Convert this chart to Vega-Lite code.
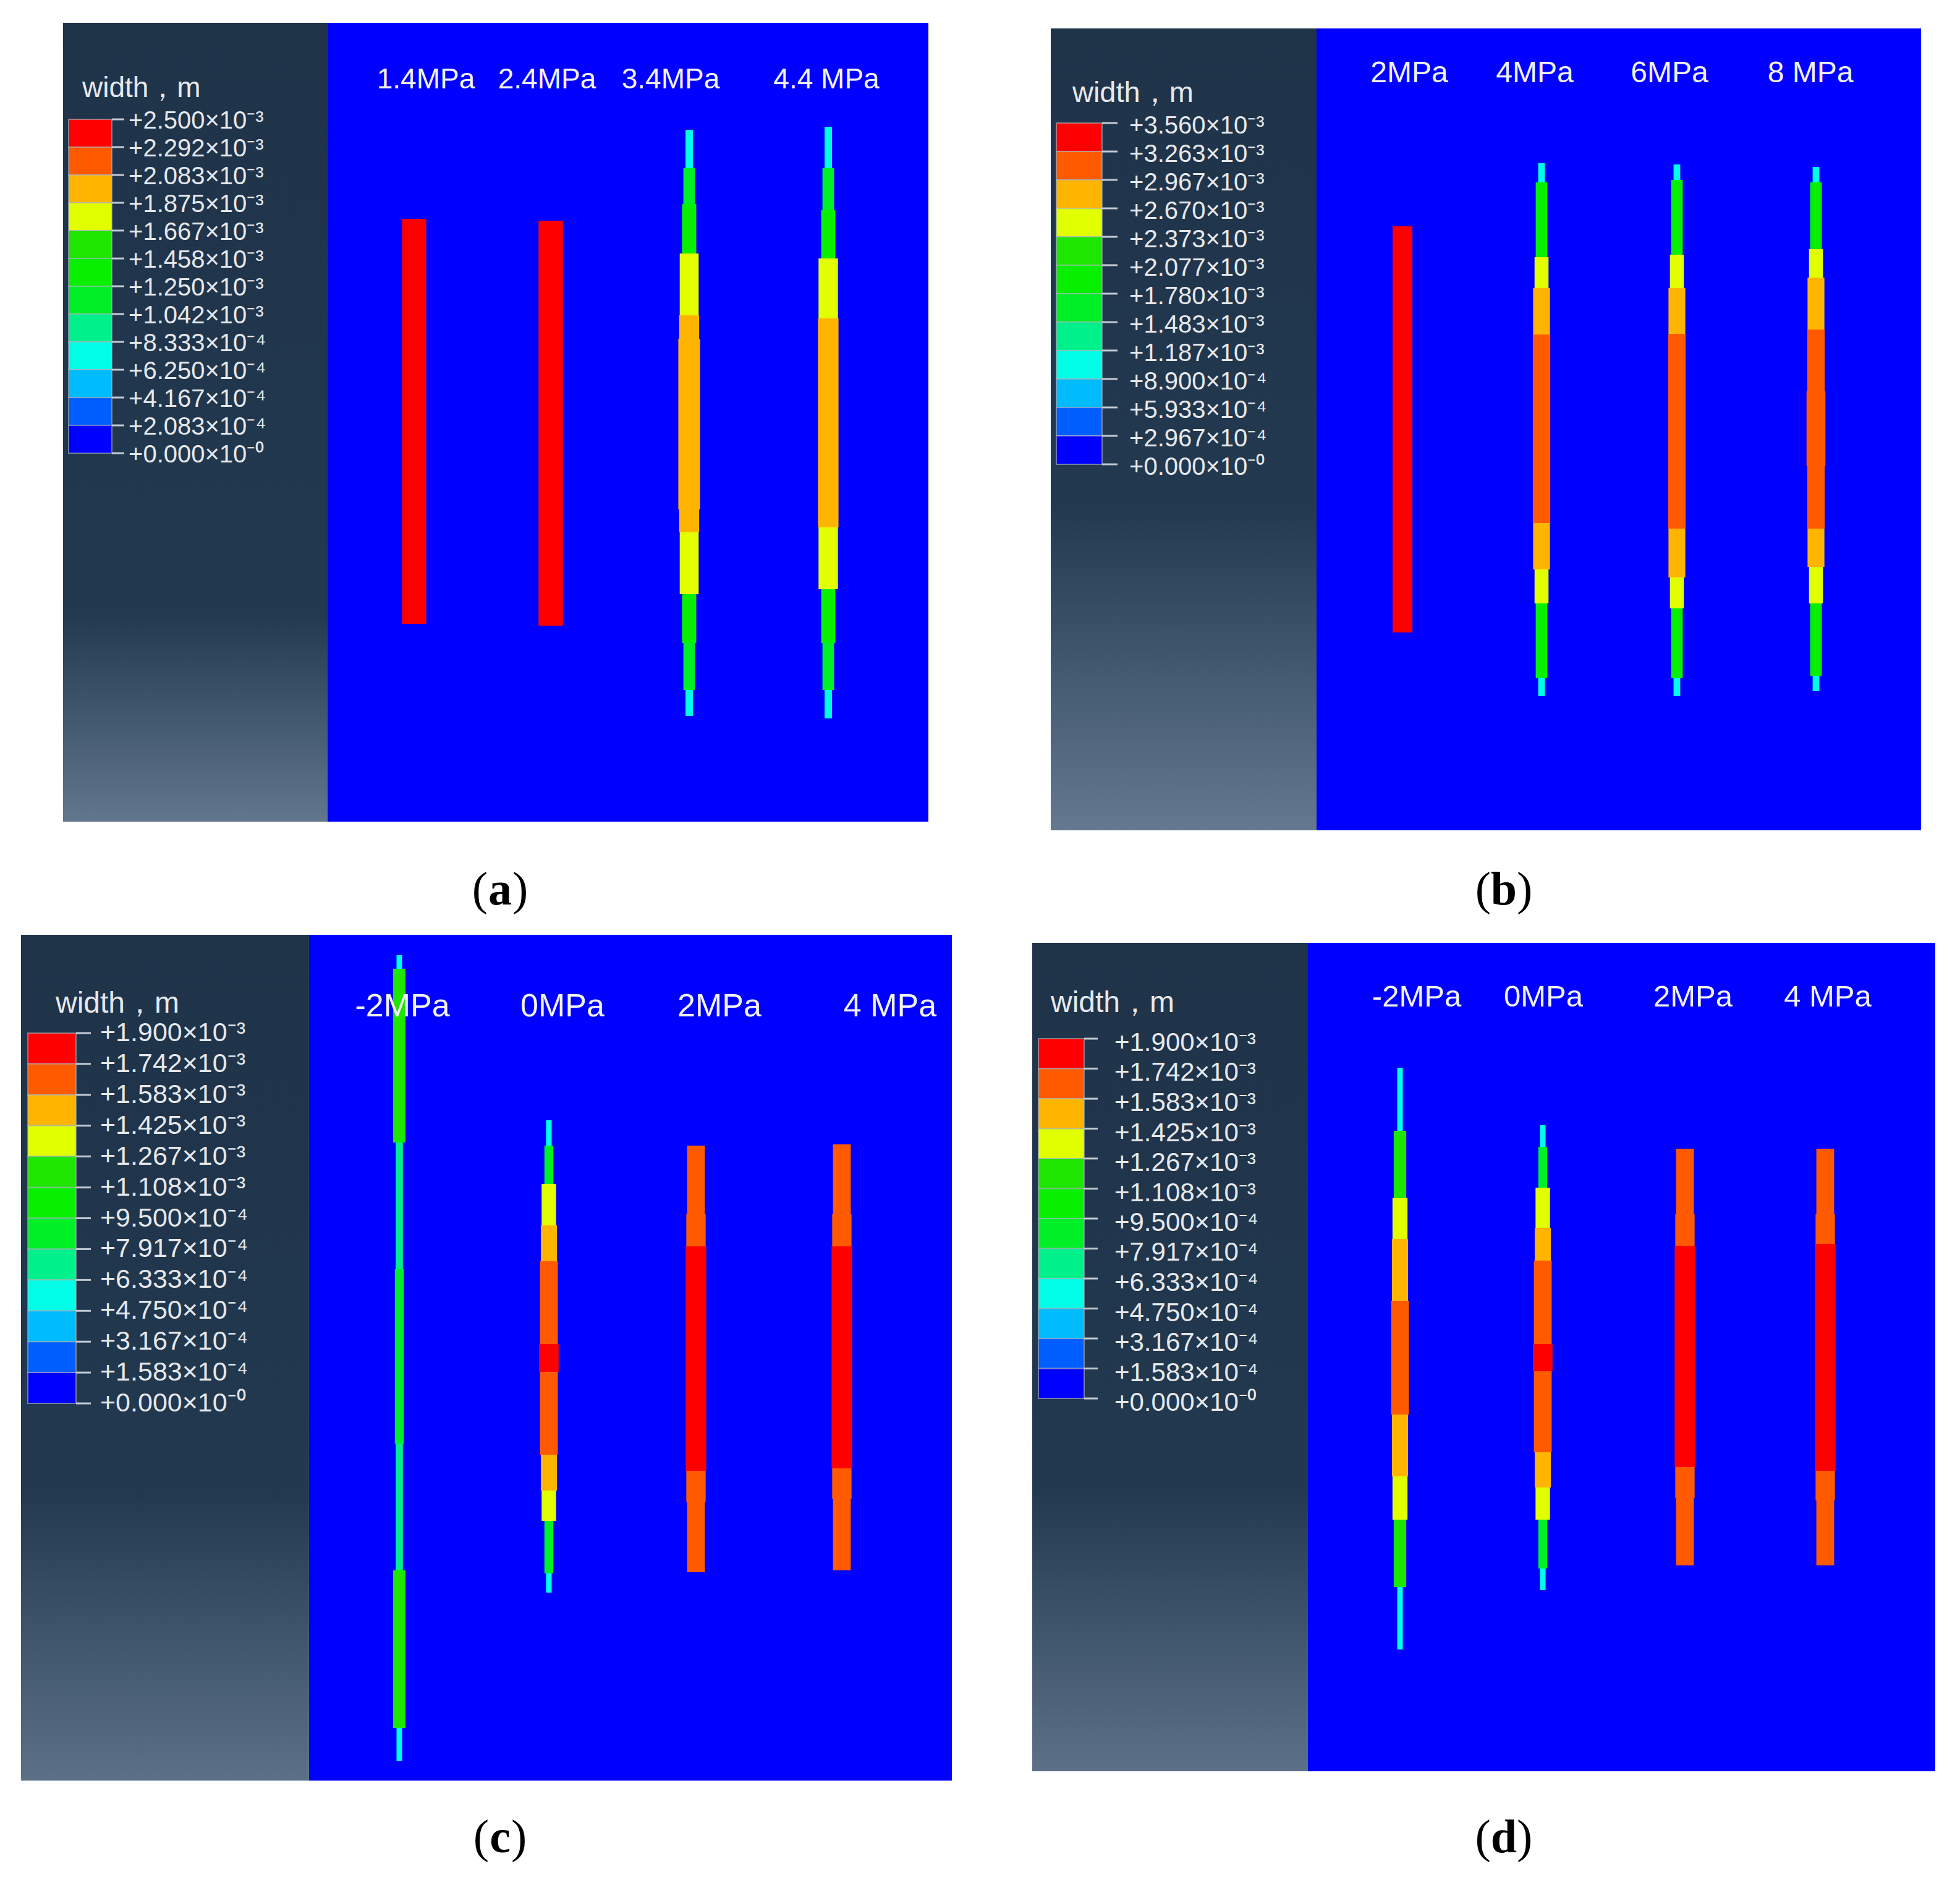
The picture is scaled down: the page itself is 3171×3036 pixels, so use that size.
{
  "$schema": "https://vega.github.io/schema/vega-lite/v6.json",
  "width": 3171,
  "height": 3036,
  "padding": 0,
  "autosize": "none",
  "background": "white",
  "config": {"view": {"stroke": null}},
  "datasets": {
    "bounds": [
      {"panel": "a", "v": 0.0025, "label": "+2.500×10⁻³"},
      {"panel": "a", "v": 0.002292, "label": "+2.292×10⁻³"},
      {"panel": "a", "v": 0.002083, "label": "+2.083×10⁻³"},
      {"panel": "a", "v": 0.001875, "label": "+1.875×10⁻³"},
      {"panel": "a", "v": 0.001667, "label": "+1.667×10⁻³"},
      {"panel": "a", "v": 0.001458, "label": "+1.458×10⁻³"},
      {"panel": "a", "v": 0.00125, "label": "+1.250×10⁻³"},
      {"panel": "a", "v": 0.001042, "label": "+1.042×10⁻³"},
      {"panel": "a", "v": 0.0008333, "label": "+8.333×10⁻⁴"},
      {"panel": "a", "v": 0.000625, "label": "+6.250×10⁻⁴"},
      {"panel": "a", "v": 0.0004167, "label": "+4.167×10⁻⁴"},
      {"panel": "a", "v": 0.0002083, "label": "+2.083×10⁻⁴"},
      {"panel": "a", "v": 0, "label": "+0.000×10⁻⁰"},
      {"panel": "b", "v": 0.00356, "label": "+3.560×10⁻³"},
      {"panel": "b", "v": 0.003263, "label": "+3.263×10⁻³"},
      {"panel": "b", "v": 0.002967, "label": "+2.967×10⁻³"},
      {"panel": "b", "v": 0.00267, "label": "+2.670×10⁻³"},
      {"panel": "b", "v": 0.002373, "label": "+2.373×10⁻³"},
      {"panel": "b", "v": 0.002077, "label": "+2.077×10⁻³"},
      {"panel": "b", "v": 0.00178, "label": "+1.780×10⁻³"},
      {"panel": "b", "v": 0.001483, "label": "+1.483×10⁻³"},
      {"panel": "b", "v": 0.001187, "label": "+1.187×10⁻³"},
      {"panel": "b", "v": 0.00089, "label": "+8.900×10⁻⁴"},
      {"panel": "b", "v": 0.0005933, "label": "+5.933×10⁻⁴"},
      {"panel": "b", "v": 0.0002967, "label": "+2.967×10⁻⁴"},
      {"panel": "b", "v": 0, "label": "+0.000×10⁻⁰"},
      {"panel": "c", "v": 0.0019, "label": "+1.900×10⁻³"},
      {"panel": "c", "v": 0.001742, "label": "+1.742×10⁻³"},
      {"panel": "c", "v": 0.001583, "label": "+1.583×10⁻³"},
      {"panel": "c", "v": 0.001425, "label": "+1.425×10⁻³"},
      {"panel": "c", "v": 0.001267, "label": "+1.267×10⁻³"},
      {"panel": "c", "v": 0.001108, "label": "+1.108×10⁻³"},
      {"panel": "c", "v": 0.00095, "label": "+9.500×10⁻⁴"},
      {"panel": "c", "v": 0.0007917, "label": "+7.917×10⁻⁴"},
      {"panel": "c", "v": 0.0006333, "label": "+6.333×10⁻⁴"},
      {"panel": "c", "v": 0.000475, "label": "+4.750×10⁻⁴"},
      {"panel": "c", "v": 0.0003167, "label": "+3.167×10⁻⁴"},
      {"panel": "c", "v": 0.0001583, "label": "+1.583×10⁻⁴"},
      {"panel": "c", "v": 0, "label": "+0.000×10⁻⁰"},
      {"panel": "d", "v": 0.0019, "label": "+1.900×10⁻³"},
      {"panel": "d", "v": 0.001742, "label": "+1.742×10⁻³"},
      {"panel": "d", "v": 0.001583, "label": "+1.583×10⁻³"},
      {"panel": "d", "v": 0.001425, "label": "+1.425×10⁻³"},
      {"panel": "d", "v": 0.001267, "label": "+1.267×10⁻³"},
      {"panel": "d", "v": 0.001108, "label": "+1.108×10⁻³"},
      {"panel": "d", "v": 0.00095, "label": "+9.500×10⁻⁴"},
      {"panel": "d", "v": 0.0007917, "label": "+7.917×10⁻⁴"},
      {"panel": "d", "v": 0.0006333, "label": "+6.333×10⁻⁴"},
      {"panel": "d", "v": 0.000475, "label": "+4.750×10⁻⁴"},
      {"panel": "d", "v": 0.0003167, "label": "+3.167×10⁻⁴"},
      {"panel": "d", "v": 0.0001583, "label": "+1.583×10⁻⁴"},
      {"panel": "d", "v": 0, "label": "+0.000×10⁻⁰"}
    ],
    "bands": [
      {"panel": "a", "lo": 0.002292, "hi": 0.0025},
      {"panel": "a", "lo": 0.002083, "hi": 0.002292},
      {"panel": "a", "lo": 0.001875, "hi": 0.002083},
      {"panel": "a", "lo": 0.001667, "hi": 0.001875},
      {"panel": "a", "lo": 0.001458, "hi": 0.001667},
      {"panel": "a", "lo": 0.00125, "hi": 0.001458},
      {"panel": "a", "lo": 0.001042, "hi": 0.00125},
      {"panel": "a", "lo": 0.0008333, "hi": 0.001042},
      {"panel": "a", "lo": 0.000625, "hi": 0.0008333},
      {"panel": "a", "lo": 0.0004167, "hi": 0.000625},
      {"panel": "a", "lo": 0.0002083, "hi": 0.0004167},
      {"panel": "a", "lo": 0, "hi": 0.0002083},
      {"panel": "b", "lo": 0.003263, "hi": 0.00356},
      {"panel": "b", "lo": 0.002967, "hi": 0.003263},
      {"panel": "b", "lo": 0.00267, "hi": 0.002967},
      {"panel": "b", "lo": 0.002373, "hi": 0.00267},
      {"panel": "b", "lo": 0.002077, "hi": 0.002373},
      {"panel": "b", "lo": 0.00178, "hi": 0.002077},
      {"panel": "b", "lo": 0.001483, "hi": 0.00178},
      {"panel": "b", "lo": 0.001187, "hi": 0.001483},
      {"panel": "b", "lo": 0.00089, "hi": 0.001187},
      {"panel": "b", "lo": 0.0005933, "hi": 0.00089},
      {"panel": "b", "lo": 0.0002967, "hi": 0.0005933},
      {"panel": "b", "lo": 0, "hi": 0.0002967},
      {"panel": "c", "lo": 0.001742, "hi": 0.0019},
      {"panel": "c", "lo": 0.001583, "hi": 0.001742},
      {"panel": "c", "lo": 0.001425, "hi": 0.001583},
      {"panel": "c", "lo": 0.001267, "hi": 0.001425},
      {"panel": "c", "lo": 0.001108, "hi": 0.001267},
      {"panel": "c", "lo": 0.00095, "hi": 0.001108},
      {"panel": "c", "lo": 0.0007917, "hi": 0.00095},
      {"panel": "c", "lo": 0.0006333, "hi": 0.0007917},
      {"panel": "c", "lo": 0.000475, "hi": 0.0006333},
      {"panel": "c", "lo": 0.0003167, "hi": 0.000475},
      {"panel": "c", "lo": 0.0001583, "hi": 0.0003167},
      {"panel": "c", "lo": 0, "hi": 0.0001583},
      {"panel": "d", "lo": 0.001742, "hi": 0.0019},
      {"panel": "d", "lo": 0.001583, "hi": 0.001742},
      {"panel": "d", "lo": 0.001425, "hi": 0.001583},
      {"panel": "d", "lo": 0.001267, "hi": 0.001425},
      {"panel": "d", "lo": 0.001108, "hi": 0.001267},
      {"panel": "d", "lo": 0.00095, "hi": 0.001108},
      {"panel": "d", "lo": 0.0007917, "hi": 0.00095},
      {"panel": "d", "lo": 0.0006333, "hi": 0.0007917},
      {"panel": "d", "lo": 0.000475, "hi": 0.0006333},
      {"panel": "d", "lo": 0.0003167, "hi": 0.000475},
      {"panel": "d", "lo": 0.0001583, "hi": 0.0003167},
      {"panel": "d", "lo": 0, "hi": 0.0001583}
    ],
    "labels": [
      {"panel": "a", "f": "1.4MPa", "x": 15.9},
      {"panel": "a", "f": "2.4MPa", "x": 35.5},
      {"panel": "a", "f": "3.4MPa", "x": 55.5},
      {"panel": "a", "f": "4.4 MPa", "x": 80.7},
      {"panel": "b", "f": "2MPa", "x": 15.0},
      {"panel": "b", "f": "4MPa", "x": 35.3},
      {"panel": "b", "f": "6MPa", "x": 57.1},
      {"panel": "b", "f": "8 MPa", "x": 79.9},
      {"panel": "c", "f": "-2MPa", "x": 15.1},
      {"panel": "c", "f": "0MPa", "x": 41.0},
      {"panel": "c", "f": "2MPa", "x": 66.4},
      {"panel": "c", "f": "4 MPa", "x": 94.0},
      {"panel": "d", "f": "-2MPa", "x": 17.6},
      {"panel": "d", "f": "0MPa", "x": 38.1},
      {"panel": "d", "f": "2MPa", "x": 62.3},
      {"panel": "d", "f": "4 MPa", "x": 84.1}
    ],
    "segments": [
      {"panel": "a", "f": "1.4MPa", "x": 14.0, "y0": 97.5, "y1": 32.0, "w": 0.0023},
      {"panel": "a", "f": "2.4MPa", "x": 36.1, "y0": 97.2, "y1": 31.7, "w": 0.00232},
      {"panel": "a", "f": "3.4MPa", "x": 58.5, "y0": 111.9, "y1": 105.7, "w": 0.0007},
      {"panel": "a", "f": "3.4MPa", "x": 58.5, "y0": 105.7, "y1": 99.9, "w": 0.0011},
      {"panel": "a", "f": "3.4MPa", "x": 58.5, "y0": 99.9, "y1": 91.9, "w": 0.00135},
      {"panel": "a", "f": "3.4MPa", "x": 58.5, "y0": 91.9, "y1": 81.9, "w": 0.0018},
      {"panel": "a", "f": "3.4MPa", "x": 58.5, "y0": 81.9, "y1": 78.1, "w": 0.0019},
      {"panel": "a", "f": "3.4MPa", "x": 58.5, "y0": 78.1, "y1": 50.5, "w": 0.00207},
      {"panel": "a", "f": "3.4MPa", "x": 58.5, "y0": 50.5, "y1": 46.8, "w": 0.0019},
      {"panel": "a", "f": "3.4MPa", "x": 58.5, "y0": 46.8, "y1": 36.8, "w": 0.0018},
      {"panel": "a", "f": "3.4MPa", "x": 58.5, "y0": 36.8, "y1": 28.9, "w": 0.00135},
      {"panel": "a", "f": "3.4MPa", "x": 58.5, "y0": 28.9, "y1": 21.3, "w": 0.0011},
      {"panel": "a", "f": "3.4MPa", "x": 58.5, "y0": 21.3, "y1": 17.1, "w": 0.0007},
      {"panel": "a", "f": "4.4MPa", "x": 81.0, "y0": 112.4, "y1": 105.7, "w": 0.0007},
      {"panel": "a", "f": "4.4MPa", "x": 81.0, "y0": 105.7, "y1": 98.9, "w": 0.0011},
      {"panel": "a", "f": "4.4MPa", "x": 81.0, "y0": 98.9, "y1": 91.1, "w": 0.00135},
      {"panel": "a", "f": "4.4MPa", "x": 81.0, "y0": 91.1, "y1": 81.4, "w": 0.00185},
      {"panel": "a", "f": "4.4MPa", "x": 81.0, "y0": 81.4, "y1": 47.6, "w": 0.00195},
      {"panel": "a", "f": "4.4MPa", "x": 81.0, "y0": 47.6, "y1": 37.6, "w": 0.00185},
      {"panel": "a", "f": "4.4MPa", "x": 81.0, "y0": 37.6, "y1": 28.9, "w": 0.00135},
      {"panel": "a", "f": "4.4MPa", "x": 81.0, "y0": 28.9, "y1": 21.3, "w": 0.0011},
      {"panel": "a", "f": "4.4MPa", "x": 81.0, "y0": 21.3, "y1": 16.7, "w": 0.0007},

      {"panel": "b", "f": "2MPa", "x": 13.9, "y0": 97.7, "y1": 32.0, "w": 0.0034},
      {"panel": "b", "f": "4MPa", "x": 36.4, "y0": 107.9, "y1": 104.8, "w": 0.00115},
      {"panel": "b", "f": "4MPa", "x": 36.4, "y0": 104.8, "y1": 92.7, "w": 0.002},
      {"panel": "b", "f": "4MPa", "x": 36.4, "y0": 92.7, "y1": 87.7, "w": 0.0024},
      {"panel": "b", "f": "4MPa", "x": 36.4, "y0": 87.7, "y1": 80.2, "w": 0.0029},
      {"panel": "b", "f": "4MPa", "x": 36.4, "y0": 80.2, "y1": 49.7, "w": 0.003},
      {"panel": "b", "f": "4MPa", "x": 36.4, "y0": 49.7, "y1": 42.2, "w": 0.0029},
      {"panel": "b", "f": "4MPa", "x": 36.4, "y0": 42.2, "y1": 36.7, "w": 0.0024},
      {"panel": "b", "f": "4MPa", "x": 36.4, "y0": 36.7, "y1": 24.6, "w": 0.002},
      {"panel": "b", "f": "4MPa", "x": 36.4, "y0": 24.6, "y1": 21.7, "w": 0.00115},
      {"panel": "b", "f": "6MPa", "x": 58.3, "y0": 107.7, "y1": 105.2, "w": 0.00115},
      {"panel": "b", "f": "6MPa", "x": 58.3, "y0": 105.2, "y1": 93.1, "w": 0.002},
      {"panel": "b", "f": "6MPa", "x": 58.3, "y0": 93.1, "y1": 87.7, "w": 0.0024},
      {"panel": "b", "f": "6MPa", "x": 58.3, "y0": 87.7, "y1": 80.3, "w": 0.0029},
      {"panel": "b", "f": "6MPa", "x": 58.3, "y0": 80.3, "y1": 48.8, "w": 0.003},
      {"panel": "b", "f": "6MPa", "x": 58.3, "y0": 48.8, "y1": 40.9, "w": 0.0029},
      {"panel": "b", "f": "6MPa", "x": 58.3, "y0": 40.9, "y1": 35.9, "w": 0.0024},
      {"panel": "b", "f": "6MPa", "x": 58.3, "y0": 35.9, "y1": 24.6, "w": 0.002},
      {"panel": "b", "f": "6MPa", "x": 58.3, "y0": 24.6, "y1": 21.7, "w": 0.00115},
      {"panel": "b", "f": "8MPa", "x": 80.8, "y0": 107.3, "y1": 104.8, "w": 0.00115},
      {"panel": "b", "f": "8MPa", "x": 80.8, "y0": 104.8, "y1": 94.0, "w": 0.002},
      {"panel": "b", "f": "8MPa", "x": 80.8, "y0": 94.0, "y1": 89.4, "w": 0.0024},
      {"panel": "b", "f": "8MPa", "x": 80.8, "y0": 89.4, "y1": 81.0, "w": 0.0029},
      {"panel": "b", "f": "8MPa", "x": 80.8, "y0": 81.0, "y1": 71.0, "w": 0.003},
      {"panel": "b", "f": "8MPa", "x": 80.8, "y0": 71.0, "y1": 58.9, "w": 0.00325},
      {"panel": "b", "f": "8MPa", "x": 80.8, "y0": 58.9, "y1": 48.8, "w": 0.003},
      {"panel": "b", "f": "8MPa", "x": 80.8, "y0": 48.8, "y1": 42.6, "w": 0.0029},
      {"panel": "b", "f": "8MPa", "x": 80.8, "y0": 42.6, "y1": 36.7, "w": 0.0024},
      {"panel": "b", "f": "8MPa", "x": 80.8, "y0": 36.7, "y1": 25.0, "w": 0.002},
      {"panel": "b", "f": "8MPa", "x": 80.8, "y0": 25.0, "y1": 22.5, "w": 0.00115},

      {"panel": "c", "f": "-2MPa", "x": 14.6, "y0": 133.5, "y1": 131.3, "w": 0.0005},
      {"panel": "c", "f": "-2MPa", "x": 14.6, "y0": 131.3, "y1": 103.2, "w": 0.00112},
      {"panel": "c", "f": "-2MPa", "x": 14.6, "y0": 103.2, "y1": 82.7, "w": 0.00064},
      {"panel": "c", "f": "-2MPa", "x": 14.6, "y0": 82.7, "y1": 54.5, "w": 0.0008},
      {"panel": "c", "f": "-2MPa", "x": 14.6, "y0": 54.5, "y1": 34.0, "w": 0.00064},
      {"panel": "c", "f": "-2MPa", "x": 14.6, "y0": 34.0, "y1": 8.5, "w": 0.00112},
      {"panel": "c", "f": "-2MPa", "x": 14.6, "y0": 8.5, "y1": 3.2, "w": 0.0005},
      {"panel": "c", "f": "0MPa", "x": 38.8, "y0": 106.8, "y1": 102.7, "w": 0.0005},
      {"panel": "c", "f": "0MPa", "x": 38.8, "y0": 102.7, "y1": 96.5, "w": 0.0008},
      {"panel": "c", "f": "0MPa", "x": 38.8, "y0": 96.5, "y1": 89.8, "w": 0.0013},
      {"panel": "c", "f": "0MPa", "x": 38.8, "y0": 89.8, "y1": 84.0, "w": 0.00145},
      {"panel": "c", "f": "0MPa", "x": 38.8, "y0": 84.0, "y1": 70.6, "w": 0.0016},
      {"panel": "c", "f": "0MPa", "x": 38.8, "y0": 70.6, "y1": 66.1, "w": 0.00175},
      {"panel": "c", "f": "0MPa", "x": 38.8, "y0": 66.1, "y1": 52.7, "w": 0.0016},
      {"panel": "c", "f": "0MPa", "x": 38.8, "y0": 52.7, "y1": 46.9, "w": 0.00145},
      {"panel": "c", "f": "0MPa", "x": 38.8, "y0": 46.9, "y1": 42.0, "w": 0.0013},
      {"panel": "c", "f": "0MPa", "x": 38.8, "y0": 42.0, "y1": 33.5, "w": 0.0008},
      {"panel": "c", "f": "0MPa", "x": 38.8, "y0": 33.5, "y1": 30.4, "w": 0.0005},
      {"panel": "c", "f": "2MPa", "x": 62.6, "y0": 102.7, "y1": 91.6, "w": 0.0016},
      {"panel": "c", "f": "2MPa", "x": 62.6, "y0": 91.6, "y1": 86.4, "w": 0.00174},
      {"panel": "c", "f": "2MPa", "x": 62.6, "y0": 86.4, "y1": 50.1, "w": 0.00185},
      {"panel": "c", "f": "2MPa", "x": 62.6, "y0": 50.1, "y1": 45.1, "w": 0.00174},
      {"panel": "c", "f": "2MPa", "x": 62.6, "y0": 45.1, "y1": 33.7, "w": 0.0016},
      {"panel": "c", "f": "4MPa", "x": 86.2, "y0": 102.9, "y1": 91.6, "w": 0.0016},
      {"panel": "c", "f": "4MPa", "x": 86.2, "y0": 91.6, "y1": 86.4, "w": 0.00174},
      {"panel": "c", "f": "4MPa", "x": 86.2, "y0": 86.4, "y1": 50.5, "w": 0.00185},
      {"panel": "c", "f": "4MPa", "x": 86.2, "y0": 50.5, "y1": 45.6, "w": 0.00174},
      {"panel": "c", "f": "4MPa", "x": 86.2, "y0": 45.6, "y1": 34.0, "w": 0.0016},

      {"panel": "d", "f": "-2MPa", "x": 14.9, "y0": 113.8, "y1": 103.6, "w": 0.0005},
      {"panel": "d", "f": "-2MPa", "x": 14.9, "y0": 103.6, "y1": 92.7, "w": 0.00112},
      {"panel": "d", "f": "-2MPa", "x": 14.9, "y0": 92.7, "y1": 86.1, "w": 0.00135},
      {"panel": "d", "f": "-2MPa", "x": 14.9, "y0": 86.1, "y1": 76.1, "w": 0.00145},
      {"panel": "d", "f": "-2MPa", "x": 14.9, "y0": 76.1, "y1": 57.7, "w": 0.0016},
      {"panel": "d", "f": "-2MPa", "x": 14.9, "y0": 57.7, "y1": 47.7, "w": 0.00145},
      {"panel": "d", "f": "-2MPa", "x": 14.9, "y0": 47.7, "y1": 40.7, "w": 0.00135},
      {"panel": "d", "f": "-2MPa", "x": 14.9, "y0": 40.7, "y1": 29.8, "w": 0.00112},
      {"panel": "d", "f": "-2MPa", "x": 14.9, "y0": 29.8, "y1": 19.7, "w": 0.0005},
      {"panel": "d", "f": "0MPa", "x": 38.0, "y0": 104.5, "y1": 101.0, "w": 0.0005},
      {"panel": "d", "f": "0MPa", "x": 38.0, "y0": 101.0, "y1": 94.4, "w": 0.0008},
      {"panel": "d", "f": "0MPa", "x": 38.0, "y0": 94.4, "y1": 87.9, "w": 0.0013},
      {"panel": "d", "f": "0MPa", "x": 38.0, "y0": 87.9, "y1": 82.6, "w": 0.00145},
      {"panel": "d", "f": "0MPa", "x": 38.0, "y0": 82.6, "y1": 69.1, "w": 0.0016},
      {"panel": "d", "f": "0MPa", "x": 38.0, "y0": 69.1, "y1": 64.7, "w": 0.00175},
      {"panel": "d", "f": "0MPa", "x": 38.0, "y0": 64.7, "y1": 51.6, "w": 0.0016},
      {"panel": "d", "f": "0MPa", "x": 38.0, "y0": 51.6, "y1": 45.9, "w": 0.00145},
      {"panel": "d", "f": "0MPa", "x": 38.0, "y0": 45.9, "y1": 40.7, "w": 0.0013},
      {"panel": "d", "f": "0MPa", "x": 38.0, "y0": 40.7, "y1": 32.8, "w": 0.0008},
      {"panel": "d", "f": "0MPa", "x": 38.0, "y0": 32.8, "y1": 29.3, "w": 0.0005},
      {"panel": "d", "f": "2MPa", "x": 61.0, "y0": 100.7, "y1": 90.1, "w": 0.0016},
      {"panel": "d", "f": "2MPa", "x": 61.0, "y0": 90.1, "y1": 85.0, "w": 0.00174},
      {"panel": "d", "f": "2MPa", "x": 61.0, "y0": 85.0, "y1": 49.2, "w": 0.00185},
      {"panel": "d", "f": "2MPa", "x": 61.0, "y0": 49.2, "y1": 44.2, "w": 0.00174},
      {"panel": "d", "f": "2MPa", "x": 61.0, "y0": 44.2, "y1": 33.3, "w": 0.0016},
      {"panel": "d", "f": "4MPa", "x": 83.7, "y0": 100.7, "y1": 90.1, "w": 0.0016},
      {"panel": "d", "f": "4MPa", "x": 83.7, "y0": 90.1, "y1": 85.3, "w": 0.00174},
      {"panel": "d", "f": "4MPa", "x": 83.7, "y0": 85.3, "y1": 48.6, "w": 0.00185},
      {"panel": "d", "f": "4MPa", "x": 83.7, "y0": 48.6, "y1": 43.8, "w": 0.00174},
      {"panel": "d", "f": "4MPa", "x": 83.7, "y0": 43.8, "y1": 33.3, "w": 0.0016}
    ]
  },
  "layer": [
    {
      "layer": [
        {
          "data": {"values": [{"panel": "a"}]},
          "layer": [
            {"mark": {"type": "rect", "fill": {"gradient": "linear", "x1": 0, "y1": 0, "x2": 0, "y2": 1, "stops": [{"offset": 0, "color": "#1f3349"}, {"offset": 0.74, "color": "#22394f"}, {"offset": 1, "color": "#62778e"}]}},
             "encoding": {"x": {"datum": 0, "type": "quantitative", "scale": {"domain": [0, 1], "range": [102, 1502], "nice": false, "zero": false}, "axis": null}, "x2": {"datum": 0.3057},
                          "y": {"datum": 0, "type": "quantitative", "scale": {"domain": [0, 1], "range": [1329, 37], "nice": false, "zero": false}, "axis": null}, "y2": {"datum": 1}}},
            {"mark": {"type": "text", "text": "(", "font": "Liberation Serif", "fontSize": 76, "align": "right", "baseline": "middle", "dx": -20, "color": "black"},
             "encoding": {"x": {"datum": 0.505, "type": "quantitative", "scale": {"domain": [0, 1], "range": [102, 1502], "nice": false, "zero": false}, "axis": null},
                          "y": {"datum": -0.0859, "type": "quantitative", "scale": {"domain": [0, 1], "range": [1329, 37], "nice": false, "zero": false}, "axis": null}}},
            {"mark": {"type": "text", "font": "Liberation Serif", "fontSize": 76, "fontWeight": "bold", "align": "center", "baseline": "middle", "color": "black"},
             "encoding": {"text": {"field": "panel"}, "x": {"datum": 0.505, "type": "quantitative", "scale": {"domain": [0, 1], "range": [102, 1502], "nice": false, "zero": false}, "axis": null},
                          "y": {"datum": -0.0859, "type": "quantitative", "scale": {"domain": [0, 1], "range": [1329, 37], "nice": false, "zero": false}, "axis": null}}},
            {"mark": {"type": "text", "text": ")", "font": "Liberation Serif", "fontSize": 76, "align": "left", "baseline": "middle", "dx": 20, "color": "black"},
             "encoding": {"x": {"datum": 0.505, "type": "quantitative", "scale": {"domain": [0, 1], "range": [102, 1502], "nice": false, "zero": false}, "axis": null},
                          "y": {"datum": -0.0859, "type": "quantitative", "scale": {"domain": [0, 1], "range": [1329, 37], "nice": false, "zero": false}, "axis": null}}}
          ]
        },
        {
          "layer": [
            {"data": {"name": "bands"}, "transform": [{"filter": "datum.panel === 'a'"}],
             "mark": {"type": "rect", "stroke": "#aab4be", "strokeWidth": 2, "strokeOpacity": 0.6},
             "encoding": {"x": {"datum": 0, "type": "quantitative", "scale": {"domain": [0, 1], "range": [111, 181], "nice": false, "zero": false}, "axis": null}, "x2": {"datum": 1},
                          "y": {"field": "lo", "type": "quantitative", "scale": {"domain": [0, 0.0025], "range": [733, 193], "nice": false, "zero": false}, "axis": null}, "y2": {"field": "hi"},
                          "color": {"field": "lo", "type": "quantitative", "legend": null, "scale": {"type": "threshold", "domain": [0.0002083, 0.0004167, 0.000625, 0.0008333, 0.001042, 0.00125, 0.001458, 0.001667, 0.001875, 0.002083, 0.002292], "range": ["#0000ff", "#005eff", "#00bcff", "#00ffe6", "#00f08c", "#00f028", "#08f000", "#1ee600", "#e2ff00", "#ffb400", "#ff5a00", "#ff0000"]}}}},
            {"data": {"name": "bounds"}, "transform": [{"filter": "datum.panel === 'a'"}],
             "mark": {"type": "rule", "color": "#c3cad2", "strokeWidth": 3},
             "encoding": {"x": {"datum": 1, "type": "quantitative", "scale": {"domain": [0, 1], "range": [111, 181], "nice": false, "zero": false}, "axis": null}, "x2": {"datum": 1.286},
                          "y": {"field": "v", "type": "quantitative", "scale": {"domain": [0, 0.0025], "range": [733, 193], "nice": false, "zero": false}, "axis": null}}},
            {"data": {"name": "bounds"}, "transform": [{"filter": "datum.panel === 'a'"}],
             "mark": {"type": "text", "align": "left", "baseline": "middle", "dy": 3, "font": "Liberation Sans", "fontSize": 40, "color": "#e6e8ec"},
             "encoding": {"x": {"datum": 1.386, "type": "quantitative", "scale": {"domain": [0, 1], "range": [111, 181], "nice": false, "zero": false}, "axis": null},
                          "y": {"field": "v", "type": "quantitative", "scale": {"domain": [0, 0.0025], "range": [733, 193], "nice": false, "zero": false}, "axis": null},
                          "text": {"field": "label"}}},
            {"data": {"values": [{"title": "width，m"}]},
             "mark": {"type": "text", "align": "left", "baseline": "middle", "font": "Liberation Sans", "fontSize": 46, "color": "#e6e8ec"},
             "encoding": {"x": {"datum": 0.314, "type": "quantitative", "scale": {"domain": [0, 1], "range": [111, 181], "nice": false, "zero": false}, "axis": null},
                          "y": {"datum": 0.0027315, "type": "quantitative", "scale": {"domain": [0, 0.0025], "range": [733, 193], "nice": false, "zero": false}, "axis": null},
                          "text": {"field": "title"}}}
          ]
        },
        {
          "layer": [
            {"data": {"values": [{}]}, "mark": {"type": "rect", "fill": "#0000fe"},
             "encoding": {"x": {"datum": 0, "type": "quantitative", "scale": {"domain": [0, 97.2], "range": [530, 1502], "nice": false, "zero": false}, "axis": null}, "x2": {"datum": 97.2},
                          "y": {"datum": 0, "type": "quantitative", "scale": {"domain": [0, 129.2], "range": [1329, 37], "nice": false, "zero": false}, "axis": null}, "y2": {"datum": 129.2}}},
            {"data": {"name": "segments"}, "transform": [{"filter": "datum.panel === 'a'"}],
             "mark": {"type": "rule", "strokeCap": "butt"},
             "encoding": {"x": {"field": "x", "type": "quantitative", "scale": {"domain": [0, 97.2], "range": [530, 1502], "nice": false, "zero": false}, "axis": null},
                          "y": {"field": "y0", "type": "quantitative", "scale": {"domain": [0, 129.2], "range": [1329, 37], "nice": false, "zero": false}, "axis": null}, "y2": {"field": "y1"},
                          "color": {"field": "w", "type": "quantitative", "legend": null, "scale": {"type": "threshold", "domain": [0.0002083, 0.0004167, 0.000625, 0.0008333, 0.001042, 0.00125, 0.001458, 0.001667, 0.001875, 0.002083, 0.002292], "range": ["#0000ff", "#005eff", "#00bcff", "#00ffe6", "#00f08c", "#00f028", "#08f000", "#1ee600", "#e2ff00", "#ffb400", "#ff5a00", "#ff0000"]}},
                          "size": {"field": "w", "type": "quantitative", "legend": null, "scale": {"domain": [0, 0.0025], "range": [0, 42.5]}}}},
            {"data": {"name": "labels"}, "transform": [{"filter": "datum.panel === 'a'"}],
             "mark": {"type": "text", "font": "Liberation Sans", "fontSize": 46, "color": "#f2f2f2", "align": "center", "baseline": "middle"},
             "encoding": {"x": {"field": "x", "type": "quantitative", "scale": {"domain": [0, 97.2], "range": [530, 1502], "nice": false, "zero": false}, "axis": null},
                          "y": {"datum": 120.0, "type": "quantitative", "scale": {"domain": [0, 129.2], "range": [1329, 37], "nice": false, "zero": false}, "axis": null},
                          "text": {"field": "f"}}}
          ]
        }
      ],
      "resolve": {"scale": {"x": "independent", "y": "independent"}}
    },
    {
      "layer": [
        {
          "data": {"values": [{"panel": "b"}]},
          "layer": [
            {"mark": {"type": "rect", "fill": {"gradient": "linear", "x1": 0, "y1": 0, "x2": 0, "y2": 1, "stops": [{"offset": 0, "color": "#1f3349"}, {"offset": 0.6, "color": "#22394f"}, {"offset": 1, "color": "#64798f"}]}},
             "encoding": {"x": {"datum": 0, "type": "quantitative", "scale": {"domain": [0, 1], "range": [1700, 3108], "nice": false, "zero": false}, "axis": null}, "x2": {"datum": 0.3054},
                          "y": {"datum": 0, "type": "quantitative", "scale": {"domain": [0, 1], "range": [1343, 46], "nice": false, "zero": false}, "axis": null}, "y2": {"datum": 1}}},
            {"mark": {"type": "text", "text": "(", "font": "Liberation Serif", "fontSize": 76, "align": "right", "baseline": "middle", "dx": -21, "color": "black"},
             "encoding": {"x": {"datum": 0.5206, "type": "quantitative", "scale": {"domain": [0, 1], "range": [1700, 3108], "nice": false, "zero": false}, "axis": null},
                          "y": {"datum": -0.0748, "type": "quantitative", "scale": {"domain": [0, 1], "range": [1343, 46], "nice": false, "zero": false}, "axis": null}}},
            {"mark": {"type": "text", "font": "Liberation Serif", "fontSize": 76, "fontWeight": "bold", "align": "center", "baseline": "middle", "color": "black"},
             "encoding": {"text": {"field": "panel"}, "x": {"datum": 0.5206, "type": "quantitative", "scale": {"domain": [0, 1], "range": [1700, 3108], "nice": false, "zero": false}, "axis": null},
                          "y": {"datum": -0.0748, "type": "quantitative", "scale": {"domain": [0, 1], "range": [1343, 46], "nice": false, "zero": false}, "axis": null}}},
            {"mark": {"type": "text", "text": ")", "font": "Liberation Serif", "fontSize": 76, "align": "left", "baseline": "middle", "dx": 21, "color": "black"},
             "encoding": {"x": {"datum": 0.5206, "type": "quantitative", "scale": {"domain": [0, 1], "range": [1700, 3108], "nice": false, "zero": false}, "axis": null},
                          "y": {"datum": -0.0748, "type": "quantitative", "scale": {"domain": [0, 1], "range": [1343, 46], "nice": false, "zero": false}, "axis": null}}}
          ]
        },
        {
          "layer": [
            {"data": {"name": "bands"}, "transform": [{"filter": "datum.panel === 'b'"}],
             "mark": {"type": "rect", "stroke": "#aab4be", "strokeWidth": 2, "strokeOpacity": 0.6},
             "encoding": {"x": {"datum": 0, "type": "quantitative", "scale": {"domain": [0, 1], "range": [1709, 1783], "nice": false, "zero": false}, "axis": null}, "x2": {"datum": 1},
                          "y": {"field": "lo", "type": "quantitative", "scale": {"domain": [0, 0.00356], "range": [751, 199], "nice": false, "zero": false}, "axis": null}, "y2": {"field": "hi"},
                          "color": {"field": "lo", "type": "quantitative", "legend": null, "scale": {"type": "threshold", "domain": [0.0002967, 0.0005933, 0.00089, 0.001187, 0.001483, 0.00178, 0.002077, 0.002373, 0.00267, 0.002967, 0.003263], "range": ["#0000ff", "#005eff", "#00bcff", "#00ffe6", "#00f08c", "#00f028", "#08f000", "#1ee600", "#e2ff00", "#ffb400", "#ff5a00", "#ff0000"]}}}},
            {"data": {"name": "bounds"}, "transform": [{"filter": "datum.panel === 'b'"}],
             "mark": {"type": "rule", "color": "#c3cad2", "strokeWidth": 3},
             "encoding": {"x": {"datum": 1, "type": "quantitative", "scale": {"domain": [0, 1], "range": [1709, 1783], "nice": false, "zero": false}, "axis": null}, "x2": {"datum": 1.338},
                          "y": {"field": "v", "type": "quantitative", "scale": {"domain": [0, 0.00356], "range": [751, 199], "nice": false, "zero": false}, "axis": null}}},
            {"data": {"name": "bounds"}, "transform": [{"filter": "datum.panel === 'b'"}],
             "mark": {"type": "text", "align": "left", "baseline": "middle", "dy": 5, "font": "Liberation Sans", "fontSize": 40, "color": "#e6e8ec"},
             "encoding": {"x": {"datum": 1.595, "type": "quantitative", "scale": {"domain": [0, 1], "range": [1709, 1783], "nice": false, "zero": false}, "axis": null},
                          "y": {"field": "v", "type": "quantitative", "scale": {"domain": [0, 0.00356], "range": [751, 199], "nice": false, "zero": false}, "axis": null},
                          "text": {"field": "label"}}},
            {"data": {"values": [{"title": "width，m"}]},
             "mark": {"type": "text", "align": "left", "baseline": "middle", "font": "Liberation Sans", "fontSize": 47, "color": "#e6e8ec"},
             "encoding": {"x": {"datum": 0.351, "type": "quantitative", "scale": {"domain": [0, 1], "range": [1709, 1783], "nice": false, "zero": false}, "axis": null},
                          "y": {"datum": 0.0038696, "type": "quantitative", "scale": {"domain": [0, 0.00356], "range": [751, 199], "nice": false, "zero": false}, "axis": null},
                          "text": {"field": "title"}}}
          ]
        },
        {
          "layer": [
            {"data": {"values": [{}]}, "mark": {"type": "rect", "fill": "#0000fe"},
             "encoding": {"x": {"datum": 0, "type": "quantitative", "scale": {"domain": [0, 97.8], "range": [2130, 3108], "nice": false, "zero": false}, "axis": null}, "x2": {"datum": 97.8},
                          "y": {"datum": 0, "type": "quantitative", "scale": {"domain": [0, 129.7], "range": [1343, 46], "nice": false, "zero": false}, "axis": null}, "y2": {"datum": 129.7}}},
            {"data": {"name": "segments"}, "transform": [{"filter": "datum.panel === 'b'"}],
             "mark": {"type": "rule", "strokeCap": "butt"},
             "encoding": {"x": {"field": "x", "type": "quantitative", "scale": {"domain": [0, 97.8], "range": [2130, 3108], "nice": false, "zero": false}, "axis": null},
                          "y": {"field": "y0", "type": "quantitative", "scale": {"domain": [0, 129.7], "range": [1343, 46], "nice": false, "zero": false}, "axis": null}, "y2": {"field": "y1"},
                          "color": {"field": "w", "type": "quantitative", "legend": null, "scale": {"type": "threshold", "domain": [0.0002967, 0.0005933, 0.00089, 0.001187, 0.001483, 0.00178, 0.002077, 0.002373, 0.00267, 0.002967, 0.003263], "range": ["#0000ff", "#005eff", "#00bcff", "#00ffe6", "#00f08c", "#00f028", "#08f000", "#1ee600", "#e2ff00", "#ffb400", "#ff5a00", "#ff0000"]}},
                          "size": {"field": "w", "type": "quantitative", "legend": null, "scale": {"domain": [0, 0.00356], "range": [0, 33.5]}}}},
            {"data": {"name": "labels"}, "transform": [{"filter": "datum.panel === 'b'"}],
             "mark": {"type": "text", "font": "Liberation Sans", "fontSize": 48, "color": "#f2f2f2", "align": "center", "baseline": "middle"},
             "encoding": {"x": {"field": "x", "type": "quantitative", "scale": {"domain": [0, 97.8], "range": [2130, 3108], "nice": false, "zero": false}, "axis": null},
                          "y": {"datum": 122.4, "type": "quantitative", "scale": {"domain": [0, 129.7], "range": [1343, 46], "nice": false, "zero": false}, "axis": null},
                          "text": {"field": "f"}}}
          ]
        }
      ],
      "resolve": {"scale": {"x": "independent", "y": "independent"}}
    },
    {
      "layer": [
        {
          "data": {"values": [{"panel": "c"}]},
          "layer": [
            {"mark": {"type": "rect", "fill": {"gradient": "linear", "x1": 0, "y1": 0, "x2": 0, "y2": 1, "stops": [{"offset": 0, "color": "#1f3349"}, {"offset": 0.66, "color": "#22394f"}, {"offset": 1, "color": "#5c7188"}]}},
             "encoding": {"x": {"datum": 0, "type": "quantitative", "scale": {"domain": [0, 1], "range": [34, 1540], "nice": false, "zero": false}, "axis": null}, "x2": {"datum": 0.3094},
                          "y": {"datum": 0, "type": "quantitative", "scale": {"domain": [0, 1], "range": [2880, 1512], "nice": false, "zero": false}, "axis": null}, "y2": {"datum": 1}}},
            {"mark": {"type": "text", "text": "(", "font": "Liberation Serif", "fontSize": 76, "align": "right", "baseline": "middle", "dx": -18, "color": "black"},
             "encoding": {"x": {"datum": 0.5146, "type": "quantitative", "scale": {"domain": [0, 1], "range": [34, 1540], "nice": false, "zero": false}, "axis": null},
                          "y": {"datum": -0.068, "type": "quantitative", "scale": {"domain": [0, 1], "range": [2880, 1512], "nice": false, "zero": false}, "axis": null}}},
            {"mark": {"type": "text", "font": "Liberation Serif", "fontSize": 76, "fontWeight": "bold", "align": "center", "baseline": "middle", "color": "black"},
             "encoding": {"text": {"field": "panel"}, "x": {"datum": 0.5146, "type": "quantitative", "scale": {"domain": [0, 1], "range": [34, 1540], "nice": false, "zero": false}, "axis": null},
                          "y": {"datum": -0.068, "type": "quantitative", "scale": {"domain": [0, 1], "range": [2880, 1512], "nice": false, "zero": false}, "axis": null}}},
            {"mark": {"type": "text", "text": ")", "font": "Liberation Serif", "fontSize": 76, "align": "left", "baseline": "middle", "dx": 18, "color": "black"},
             "encoding": {"x": {"datum": 0.5146, "type": "quantitative", "scale": {"domain": [0, 1], "range": [34, 1540], "nice": false, "zero": false}, "axis": null},
                          "y": {"datum": -0.068, "type": "quantitative", "scale": {"domain": [0, 1], "range": [2880, 1512], "nice": false, "zero": false}, "axis": null}}}
          ]
        },
        {
          "layer": [
            {"data": {"name": "bands"}, "transform": [{"filter": "datum.panel === 'c'"}],
             "mark": {"type": "rect", "stroke": "#aab4be", "strokeWidth": 2, "strokeOpacity": 0.6},
             "encoding": {"x": {"datum": 0, "type": "quantitative", "scale": {"domain": [0, 1], "range": [45, 123], "nice": false, "zero": false}, "axis": null}, "x2": {"datum": 1},
                          "y": {"field": "lo", "type": "quantitative", "scale": {"domain": [0, 0.0019], "range": [2270, 1671], "nice": false, "zero": false}, "axis": null}, "y2": {"field": "hi"},
                          "color": {"field": "lo", "type": "quantitative", "legend": null, "scale": {"type": "threshold", "domain": [0.0001583, 0.0003167, 0.000475, 0.0006333, 0.0007917, 0.00095, 0.001108, 0.001267, 0.001425, 0.001583, 0.001742], "range": ["#0000ff", "#005eff", "#00bcff", "#00ffe6", "#00f08c", "#00f028", "#08f000", "#1ee600", "#e2ff00", "#ffb400", "#ff5a00", "#ff0000"]}}}},
            {"data": {"name": "bounds"}, "transform": [{"filter": "datum.panel === 'c'"}],
             "mark": {"type": "rule", "color": "#c3cad2", "strokeWidth": 3},
             "encoding": {"x": {"datum": 1, "type": "quantitative", "scale": {"domain": [0, 1], "range": [45, 123], "nice": false, "zero": false}, "axis": null}, "x2": {"datum": 1.308},
                          "y": {"field": "v", "type": "quantitative", "scale": {"domain": [0, 0.0019], "range": [2270, 1671], "nice": false, "zero": false}, "axis": null}}},
            {"data": {"name": "bounds"}, "transform": [{"filter": "datum.panel === 'c'"}],
             "mark": {"type": "text", "align": "left", "baseline": "middle", "font": "Liberation Sans", "fontSize": 43, "color": "#e6e8ec"},
             "encoding": {"x": {"datum": 1.5, "type": "quantitative", "scale": {"domain": [0, 1], "range": [45, 123], "nice": false, "zero": false}, "axis": null},
                          "y": {"field": "v", "type": "quantitative", "scale": {"domain": [0, 0.0019], "range": [2270, 1671], "nice": false, "zero": false}, "axis": null},
                          "text": {"field": "label"}}},
            {"data": {"values": [{"title": "width，m"}]},
             "mark": {"type": "text", "align": "left", "baseline": "middle", "font": "Liberation Sans", "fontSize": 48, "color": "#e6e8ec"},
             "encoding": {"x": {"datum": 0.577, "type": "quantitative", "scale": {"domain": [0, 1], "range": [45, 123], "nice": false, "zero": false}, "axis": null},
                          "y": {"datum": 0.002049, "type": "quantitative", "scale": {"domain": [0, 0.0019], "range": [2270, 1671], "nice": false, "zero": false}, "axis": null},
                          "text": {"field": "title"}}}
          ]
        },
        {
          "layer": [
            {"data": {"values": [{}]}, "mark": {"type": "rect", "fill": "#0000fe"},
             "encoding": {"x": {"datum": 0, "type": "quantitative", "scale": {"domain": [0, 104], "range": [500, 1540], "nice": false, "zero": false}, "axis": null}, "x2": {"datum": 104},
                          "y": {"datum": 0, "type": "quantitative", "scale": {"domain": [0, 136.8], "range": [2880, 1512], "nice": false, "zero": false}, "axis": null}, "y2": {"datum": 136.8}}},
            {"data": {"name": "segments"}, "transform": [{"filter": "datum.panel === 'c'"}],
             "mark": {"type": "rule", "strokeCap": "butt"},
             "encoding": {"x": {"field": "x", "type": "quantitative", "scale": {"domain": [0, 104], "range": [500, 1540], "nice": false, "zero": false}, "axis": null},
                          "y": {"field": "y0", "type": "quantitative", "scale": {"domain": [0, 136.8], "range": [2880, 1512], "nice": false, "zero": false}, "axis": null}, "y2": {"field": "y1"},
                          "color": {"field": "w", "type": "quantitative", "legend": null, "scale": {"type": "threshold", "domain": [0.0001583, 0.0003167, 0.000475, 0.0006333, 0.0007917, 0.00095, 0.001108, 0.001267, 0.001425, 0.001583, 0.001742], "range": ["#0000ff", "#005eff", "#00bcff", "#00ffe6", "#00f08c", "#00f028", "#08f000", "#1ee600", "#e2ff00", "#ffb400", "#ff5a00", "#ff0000"]}},
                          "size": {"field": "w", "type": "quantitative", "legend": null, "scale": {"domain": [0, 0.0019], "range": [0, 34.2]}}}},
            {"data": {"name": "labels"}, "transform": [{"filter": "datum.panel === 'c'"}],
             "mark": {"type": "text", "font": "Liberation Sans", "fontSize": 52, "color": "#f2f2f2", "align": "center", "baseline": "middle"},
             "encoding": {"x": {"field": "x", "type": "quantitative", "scale": {"domain": [0, 104], "range": [500, 1540], "nice": false, "zero": false}, "axis": null},
                          "y": {"datum": 125.2, "type": "quantitative", "scale": {"domain": [0, 136.8], "range": [2880, 1512], "nice": false, "zero": false}, "axis": null},
                          "text": {"field": "f"}}}
          ]
        }
      ],
      "resolve": {"scale": {"x": "independent", "y": "independent"}}
    },
    {
      "layer": [
        {
          "data": {"values": [{"panel": "d"}]},
          "layer": [
            {"mark": {"type": "rect", "fill": {"gradient": "linear", "x1": 0, "y1": 0, "x2": 0, "y2": 1, "stops": [{"offset": 0, "color": "#1f3349"}, {"offset": 0.66, "color": "#22394f"}, {"offset": 1, "color": "#5c7188"}]}},
             "encoding": {"x": {"datum": 0, "type": "quantitative", "scale": {"domain": [0, 1], "range": [1670, 3131], "nice": false, "zero": false}, "axis": null}, "x2": {"datum": 0.3053},
                          "y": {"datum": 0, "type": "quantitative", "scale": {"domain": [0, 1], "range": [2865, 1525], "nice": false, "zero": false}, "axis": null}, "y2": {"datum": 1}}},
            {"mark": {"type": "text", "text": "(", "font": "Liberation Serif", "fontSize": 76, "align": "right", "baseline": "middle", "dx": -21, "color": "black"},
             "encoding": {"x": {"datum": 0.5222, "type": "quantitative", "scale": {"domain": [0, 1], "range": [1670, 3131], "nice": false, "zero": false}, "axis": null},
                          "y": {"datum": -0.0806, "type": "quantitative", "scale": {"domain": [0, 1], "range": [2865, 1525], "nice": false, "zero": false}, "axis": null}}},
            {"mark": {"type": "text", "font": "Liberation Serif", "fontSize": 76, "fontWeight": "bold", "align": "center", "baseline": "middle", "color": "black"},
             "encoding": {"text": {"field": "panel"}, "x": {"datum": 0.5222, "type": "quantitative", "scale": {"domain": [0, 1], "range": [1670, 3131], "nice": false, "zero": false}, "axis": null},
                          "y": {"datum": -0.0806, "type": "quantitative", "scale": {"domain": [0, 1], "range": [2865, 1525], "nice": false, "zero": false}, "axis": null}}},
            {"mark": {"type": "text", "text": ")", "font": "Liberation Serif", "fontSize": 76, "align": "left", "baseline": "middle", "dx": 21, "color": "black"},
             "encoding": {"x": {"datum": 0.5222, "type": "quantitative", "scale": {"domain": [0, 1], "range": [1670, 3131], "nice": false, "zero": false}, "axis": null},
                          "y": {"datum": -0.0806, "type": "quantitative", "scale": {"domain": [0, 1], "range": [2865, 1525], "nice": false, "zero": false}, "axis": null}}}
          ]
        },
        {
          "layer": [
            {"data": {"name": "bands"}, "transform": [{"filter": "datum.panel === 'd'"}],
             "mark": {"type": "rect", "stroke": "#aab4be", "strokeWidth": 2, "strokeOpacity": 0.6},
             "encoding": {"x": {"datum": 0, "type": "quantitative", "scale": {"domain": [0, 1], "range": [1680, 1754], "nice": false, "zero": false}, "axis": null}, "x2": {"datum": 1},
                          "y": {"field": "lo", "type": "quantitative", "scale": {"domain": [0, 0.0019], "range": [2262, 1680], "nice": false, "zero": false}, "axis": null}, "y2": {"field": "hi"},
                          "color": {"field": "lo", "type": "quantitative", "legend": null, "scale": {"type": "threshold", "domain": [0.0001583, 0.0003167, 0.000475, 0.0006333, 0.0007917, 0.00095, 0.001108, 0.001267, 0.001425, 0.001583, 0.001742], "range": ["#0000ff", "#005eff", "#00bcff", "#00ffe6", "#00f08c", "#00f028", "#08f000", "#1ee600", "#e2ff00", "#ffb400", "#ff5a00", "#ff0000"]}}}},
            {"data": {"name": "bounds"}, "transform": [{"filter": "datum.panel === 'd'"}],
             "mark": {"type": "rule", "color": "#c3cad2", "strokeWidth": 3},
             "encoding": {"x": {"datum": 1, "type": "quantitative", "scale": {"domain": [0, 1], "range": [1680, 1754], "nice": false, "zero": false}, "axis": null}, "x2": {"datum": 1.297},
                          "y": {"field": "v", "type": "quantitative", "scale": {"domain": [0, 0.0019], "range": [2262, 1680], "nice": false, "zero": false}, "axis": null}}},
            {"data": {"name": "bounds"}, "transform": [{"filter": "datum.panel === 'd'"}],
             "mark": {"type": "text", "align": "left", "baseline": "middle", "dy": 7, "font": "Liberation Sans", "fontSize": 42, "color": "#e6e8ec"},
             "encoding": {"x": {"datum": 1.662, "type": "quantitative", "scale": {"domain": [0, 1], "range": [1680, 1754], "nice": false, "zero": false}, "axis": null},
                          "y": {"field": "v", "type": "quantitative", "scale": {"domain": [0, 0.0019], "range": [2262, 1680], "nice": false, "zero": false}, "axis": null},
                          "text": {"field": "label"}}},
            {"data": {"values": [{"title": "width，m"}]},
             "mark": {"type": "text", "align": "left", "baseline": "middle", "font": "Liberation Sans", "fontSize": 48, "color": "#e6e8ec"},
             "encoding": {"x": {"datum": 0.27, "type": "quantitative", "scale": {"domain": [0, 1], "range": [1680, 1754], "nice": false, "zero": false}, "axis": null},
                          "y": {"datum": 0.0020861, "type": "quantitative", "scale": {"domain": [0, 0.0019], "range": [2262, 1680], "nice": false, "zero": false}, "axis": null},
                          "text": {"field": "title"}}}
          ]
        },
        {
          "layer": [
            {"data": {"values": [{}]}, "mark": {"type": "rect", "fill": "#0000fe"},
             "encoding": {"x": {"datum": 0, "type": "quantitative", "scale": {"domain": [0, 101.5], "range": [2116, 3131], "nice": false, "zero": false}, "axis": null}, "x2": {"datum": 101.5},
                          "y": {"datum": 0, "type": "quantitative", "scale": {"domain": [0, 134], "range": [2865, 1525], "nice": false, "zero": false}, "axis": null}, "y2": {"datum": 134}}},
            {"data": {"name": "segments"}, "transform": [{"filter": "datum.panel === 'd'"}],
             "mark": {"type": "rule", "strokeCap": "butt"},
             "encoding": {"x": {"field": "x", "type": "quantitative", "scale": {"domain": [0, 101.5], "range": [2116, 3131], "nice": false, "zero": false}, "axis": null},
                          "y": {"field": "y0", "type": "quantitative", "scale": {"domain": [0, 134], "range": [2865, 1525], "nice": false, "zero": false}, "axis": null}, "y2": {"field": "y1"},
                          "color": {"field": "w", "type": "quantitative", "legend": null, "scale": {"type": "threshold", "domain": [0.0001583, 0.0003167, 0.000475, 0.0006333, 0.0007917, 0.00095, 0.001108, 0.001267, 0.001425, 0.001583, 0.001742], "range": ["#0000ff", "#005eff", "#00bcff", "#00ffe6", "#00f08c", "#00f028", "#08f000", "#1ee600", "#e2ff00", "#ffb400", "#ff5a00", "#ff0000"]}},
                          "size": {"field": "w", "type": "quantitative", "legend": null, "scale": {"domain": [0, 0.0019], "range": [0, 34.2]}}}},
            {"data": {"name": "labels"}, "transform": [{"filter": "datum.panel === 'd'"}],
             "mark": {"type": "text", "font": "Liberation Sans", "fontSize": 49, "color": "#f2f2f2", "align": "center", "baseline": "middle"},
             "encoding": {"x": {"field": "x", "type": "quantitative", "scale": {"domain": [0, 101.5], "range": [2116, 3131], "nice": false, "zero": false}, "axis": null},
                          "y": {"datum": 125.2, "type": "quantitative", "scale": {"domain": [0, 134], "range": [2865, 1525], "nice": false, "zero": false}, "axis": null},
                          "text": {"field": "f"}}}
          ]
        }
      ],
      "resolve": {"scale": {"x": "independent", "y": "independent"}}
    }
  ],
  "resolve": {"scale": {"x": "independent", "y": "independent", "color": "independent", "size": "independent"}}
}
